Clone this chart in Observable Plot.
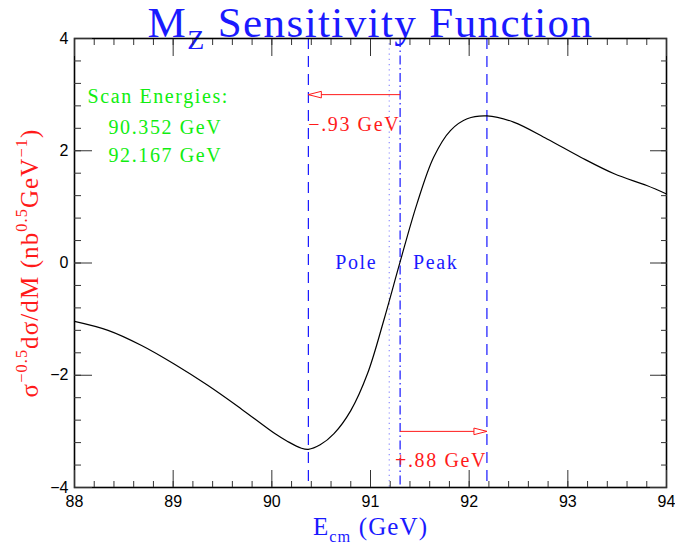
<!DOCTYPE html>
<html><head><meta charset="utf-8">
<script src="https://cdn.jsdelivr.net/npm/d3@7"></script>
<script src="https://cdn.jsdelivr.net/npm/@observablehq/plot@0.6"></script>
<style>html,body{margin:0;padding:0;background:#fff;} svg{display:block;}</style>
</head><body><div id="chart"></div>
<script>
// ---- data ----
const energy = [88.00, 88.34, 88.68, 89.01, 89.35, 89.69, 90.03, 90.16, 90.30, 90.37, 90.49, 90.63, 90.80, 90.97, 91.135, 91.30, 91.47, 91.64, 91.81, 91.98, 92.18, 92.45, 92.79, 93.13, 93.47, 93.80, 94.00];
const sensitivity = [-1.04, -1.20, -1.47, -1.80, -2.18, -2.60, -3.04, -3.18, -3.30, -3.32, -3.24, -3.04, -2.63, -1.97, -1.02, 0.02, 1.05, 1.885, 2.36, 2.57, 2.62, 2.51, 2.21, 1.885, 1.59, 1.38, 1.23];
const xMajor = [88, 89, 90, 91, 92, 93, 94];
const yMajor = [-4, -2, 0, 2, 4];
const xMinor = d3.range(0, 31).map(i => +(88 + i * 0.2).toFixed(2));
const yMinor = d3.range(0, 21).map(i => +(-4 + i * 0.4).toFixed(2));
const pole = 91.19;
const peak = 91.30;
const shifts = [-0.93, 0.88];
const arrowY = [3, -3];
const scanEnergies = ["90.352", "92.167"];
const titleText = "M_{Z} Sensitivity Function";
const xLabelText = "E_{cm} (GeV)";
const yLabelText = "σ^{−0.5}dσ/dM (nb^{0.5}GeV^{−1})";
const scanTitle = "Scan Energies:";
const poleLabel = "Pole";
const peakLabel = "Peak";

// ---- derived tables ----
const curve = energy.map((e, i) => ({e, s: sensitivity[i]}));
const fmtShift = d => (d < 0 ? "−" : "+") + Math.abs(d).toFixed(2).replace(/^0/, "") + " GeV";
const arrows = shifts.map((d, i) => ({from: peak, to: +(peak + d).toFixed(3), y: arrowY[i], label: fmtShift(d)}));
const edgeLines = arrows.map(a => a.to);

const RED = "#ff1a1a", BLUE = "#1a1aff", GREEN = "#10ee10";
const ns = "http://www.w3.org/2000/svg";
function openHead(color) {
  const m = document.createElementNS(ns, "marker");
  m.setAttribute("viewBox", "-14 -5 15 10");
  m.setAttribute("markerWidth", 15);
  m.setAttribute("markerHeight", 10);
  m.setAttribute("markerUnits", "userSpaceOnUse");
  m.setAttribute("orient", "auto");
  m.setAttribute("overflow", "visible");
  const p = document.createElementNS(ns, "path");
  p.setAttribute("d", "M0,0L-13,-3.3L-13,3.3Z");
  p.setAttribute("fill", "white");
  p.setAttribute("stroke", color);
  p.setAttribute("stroke-width", 1);
  m.appendChild(p);
  return m;
}

const serif = "Liberation Serif, Times New Roman, serif";
const tickStroke = "#333";
const fmtTick = d3.format("d");

const chart = Plot.plot({
  width: 675, height: 544,
  marginTop: 38, marginRight: 9, marginBottom: 57, marginLeft: 74,
  x: {domain: [88, 94]},
  y: {domain: [-4, 4]},
  style: {fontFamily: "Liberation Sans, Arial, sans-serif", background: "white", overflow: "visible"},
  marks: [
    Plot.ruleX([pole], {stroke: "#8c8cff", strokeWidth: 1.2, strokeDasharray: "1.2,4"}),
    Plot.ruleX(edgeLines, {stroke: "#0000ff", strokeWidth: 1.1, strokeDasharray: "11,7"}),
    Plot.ruleX([peak], {stroke: "#0000ff", strokeWidth: 1.1, strokeDasharray: "9,3.5,1.5,3.5"}),
    Plot.line(curve, {x: "e", y: "s", stroke: "black", strokeWidth: 1.2, curve: "catmull-rom"}),
    Plot.link(arrows, {x1: "from", y1: "y", x2: "to", y2: "y", stroke: RED, strokeWidth: 1, markerEnd: openHead}),
    Plot.text([arrows[0]], {x: "to", y: "y", text: "label", textAnchor: "start", lineAnchor: "bottom", dy: 36, fill: RED, fontSize: 20, fontFamily: serif}),
    Plot.text([arrows[1]], {x: "from", y: "y", text: "label", textAnchor: "start", lineAnchor: "bottom", dx: -5, dy: 36, fill: RED, fontSize: 20, fontFamily: serif}),
    Plot.text([poleLabel], {x: () => pole, y: () => 0, text: d => d, textAnchor: "end", lineAnchor: "middle", dx: -12, fill: BLUE, fontSize: 20, fontFamily: serif}),
    Plot.text([peakLabel], {x: () => peak, y: () => 0, text: d => d, textAnchor: "start", lineAnchor: "middle", dx: 13, fill: BLUE, fontSize: 20, fontFamily: serif}),
    Plot.text([scanTitle], {frameAnchor: "top-left", text: d => d, textAnchor: "start", lineAnchor: "bottom", dx: 13, dy: 64, fill: GREEN, fontSize: 20, fontFamily: serif}),
    Plot.text([scanEnergies.map(v => v + " GeV").join("\n")], {frameAnchor: "top-left", text: d => d, textAnchor: "start", lineAnchor: "top", lineHeight: 1.4, dx: 34, dy: 76, fill: GREEN, fontSize: 20, fontFamily: serif}),
    Plot.text([titleText], {frameAnchor: "top", text: d => d, textAnchor: "middle", lineAnchor: "bottom", dy: -2, fill: BLUE, fontSize: 43, fontFamily: serif}),
    Plot.text([xLabelText], {frameAnchor: "bottom", text: d => d, textAnchor: "middle", lineAnchor: "bottom", dy: 47, fill: BLUE, fontSize: 25, fontFamily: serif}),
    Plot.text([yLabelText], {frameAnchor: "left", text: d => d, textAnchor: "middle", lineAnchor: "bottom", rotate: -90, dx: -37, fill: RED, fontSize: 25, fontFamily: serif}),
    Plot.frame({stroke: "black", strokeWidth: 1.6}),
    Plot.axisX(xMinor, {anchor: "bottom", tickSize: -6, tickFormat: () => "", label: null, stroke: tickStroke}),
    Plot.axisX(xMajor, {anchor: "bottom", tickSize: -17, tickFormat: () => "", label: null, stroke: tickStroke}),
    Plot.axisX(xMinor, {anchor: "top", tickSize: -6, tickFormat: () => "", label: null, stroke: tickStroke}),
    Plot.axisX(xMajor, {anchor: "top", tickSize: -17, tickFormat: () => "", label: null, stroke: tickStroke}),
    Plot.axisY(yMinor, {anchor: "left", tickSize: -7, tickFormat: () => "", label: null, stroke: tickStroke}),
    Plot.axisY(yMajor, {anchor: "left", tickSize: -18, tickFormat: () => "", label: null, stroke: tickStroke}),
    Plot.axisY(yMinor, {anchor: "right", tickSize: -6, tickFormat: () => "", label: null, stroke: tickStroke}),
    Plot.axisY(yMajor, {anchor: "right", tickSize: -17, tickFormat: () => "", label: null, stroke: tickStroke}),
    Plot.axisX(xMajor, {anchor: "bottom", tickSize: 0, tickPadding: 8, tickFormat: fmtTick, label: null, fontSize: 16, fill: "black"}),
    Plot.axisY(yMajor, {anchor: "left", tickSize: 0, tickPadding: 6, tickFormat: fmtTick, label: null, fontSize: 16, fill: "black"})
  ]
});
document.getElementById("chart").appendChild(chart);

// ---- sub/superscripts and letter spacing ----
function rich(t) {
  const fs = parseFloat(getComputedStyle(t).fontSize) || 20;
  const s = t.textContent;
  t.textContent = "";
  const re = /([_^])\{([^}]*)\}/g;
  const parts = [];
  let last = 0, m;
  while ((m = re.exec(s))) {
    if (m.index > last) parts.push([s.slice(last, m.index), 0]);
    parts.push([m[2], m[1] === "^" ? -1 : 1]);
    last = re.lastIndex;
  }
  if (last < s.length) parts.push([s.slice(last), 0]);
  let cur = 0;
  for (const [txt, kind] of parts) {
    const ts = document.createElementNS(ns, "tspan");
    const target = kind === 0 ? 0 : kind < 0 ? -0.42 * fs : 0.28 * fs;
    if (target !== cur) ts.setAttribute("dy", (target - cur).toFixed(2));
    if (kind) ts.setAttribute("font-size", (fs * 0.65).toFixed(1));
    ts.textContent = txt;
    t.appendChild(ts);
    cur = target;
  }
}
chart.querySelectorAll("text").forEach(t => {
  if (/[_^]\{/.test(t.textContent)) rich(t);
});
chart.querySelectorAll('g[font-size="20"]').forEach(g => g.setAttribute("letter-spacing", 1.6));
chart.querySelectorAll('g[font-size="25"]').forEach(g => g.setAttribute("letter-spacing", 1.1));
chart.querySelectorAll('g[font-size="43"]').forEach(g => g.setAttribute("letter-spacing", 1.4));
</script>
</body></html>
